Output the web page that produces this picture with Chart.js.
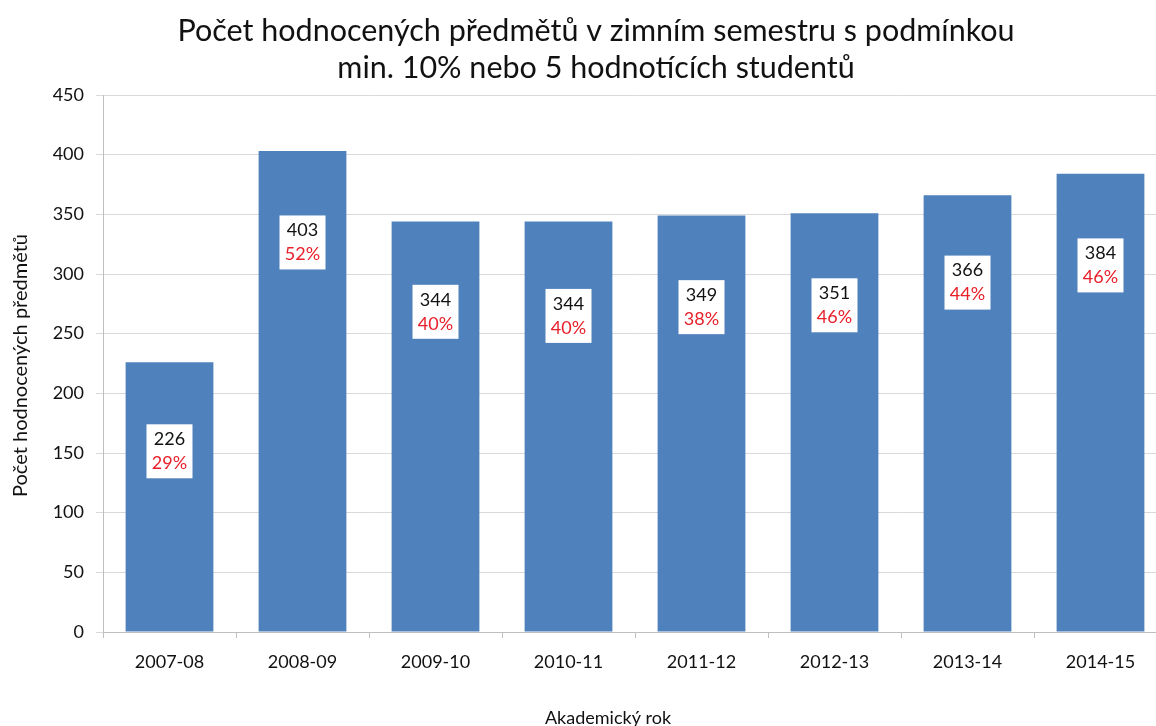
<!DOCTYPE html>
<html lang="cs">
<head>
<meta charset="utf-8">
<script src="https://cdn.jsdelivr.net/npm/chart.js@4/dist/chart.umd.min.js"></script>
<style>
html,body{margin:0;padding:0;background:#fff;overflow:hidden;}
#wrap{width:1170px;height:740px;position:relative;}
</style>
</head>
<body>
<div id="wrap"><canvas id="c" width="1170" height="740"></canvas></div>
<script>
/* ===== data ===== */
const years=['2007-08','2008-09','2009-10','2010-11','2011-12','2012-13','2013-14','2014-15'];
const counts=[226,403,344,344,349,351,366,384];
const shares=[29,52,40,40,38,46,44,46];
const yTicks=[0,50,100,150,200,250,300,350,400,450];

const titleLines=['Počet hodnocených předmětů v zimním semestru s podmínkou','min. 10% nebo 5 hodnotících studentů'];
const yTitle='Počet hodnocených předmětů';
const xTitle='Akademický rok';

/* ===== style ===== */
const FONT='Lato, "Open Sans", sans-serif';
const BAR='#4F81BD';
const GRID='#d9d9d9';
// where the label box sits inside each bar (share of bar height, Excel labels were dragged by hand)
const labelLift=[0.67,0.81,0.78,0.77,0.78,0.78,0.80,0.80];

/* ===== plugins ===== */
const textPlugin={
  id:'texts',
  afterDraw(chart){
    const ctx=chart.ctx, a=chart.chartArea;
    ctx.save();
    ctx.fillStyle='#111';
    ctx.textAlign='center'; ctx.textBaseline='middle';
    ctx.font='30.5px '+FONT;
    ctx.fillText(titleLines[0],596,31);
    ctx.fillText(titleLines[1],596,68);
    ctx.font='18px '+FONT;
    ctx.fillText(xTitle,608,718);
    ctx.font='20px '+FONT;
    ctx.translate(21,(a.top+a.bottom)/2+2);
    ctx.rotate(-Math.PI/2);
    ctx.fillText(yTitle,0,0);
    ctx.restore();

    // value labels in white boxes
    const meta=chart.getDatasetMeta(0), y=chart.scales.y;
    ctx.save();
    ctx.font='18px '+FONT;
    ctx.textAlign='center'; ctx.textBaseline='middle';
    meta.data.forEach((bar,i)=>{
      const cy=y.getPixelForValue(counts[i]*labelLift[i]);
      const w=46,h=54;
      ctx.fillStyle='#fff';
      ctx.fillRect(bar.x-w/2,cy-h/2,w,h);
      ctx.fillStyle='#111';
      ctx.fillText(String(counts[i]),bar.x,cy-12);
      ctx.fillStyle='#e8202a';
      ctx.fillText(shares[i]+'%',bar.x,cy+12);
    });
    ctx.restore();
  }
};

/* ===== chart ===== */
new Chart(document.getElementById('c'),{
  type:'bar',
  data:{labels:years,datasets:[{data:counts,backgroundColor:BAR,borderWidth:0,barPercentage:0.66,categoryPercentage:1}]},
  options:{
    responsive:false,animation:false,
    layout:{padding:{top:95,right:3,left:0,bottom:0}},
    plugins:{legend:{display:false},tooltip:{enabled:false},title:{display:false}},
    scales:{
      x:{
        grid:{drawOnChartArea:false,drawTicks:true,tickLength:6,color:'#bfbfbf',offset:true},
        border:{color:'#bfbfbf'},
        ticks:{color:'#111',font:{family:FONT,size:18},padding:13},
        afterFit(s){ s.height=108; }
      },
      y:{
        min:0,max:450,
        afterBuildTicks(s){ s.ticks=yTicks.map(v=>({value:v})); },
        grid:{color:GRID,tickLength:7,drawTicks:true},
        border:{color:'#bfbfbf'},
        ticks:{color:'#111',font:{family:FONT,size:18},padding:12},
        afterFit(s){ s.width=103; }
      }
    }
  },
  plugins:[textPlugin]
});
</script>
</body>
</html>
